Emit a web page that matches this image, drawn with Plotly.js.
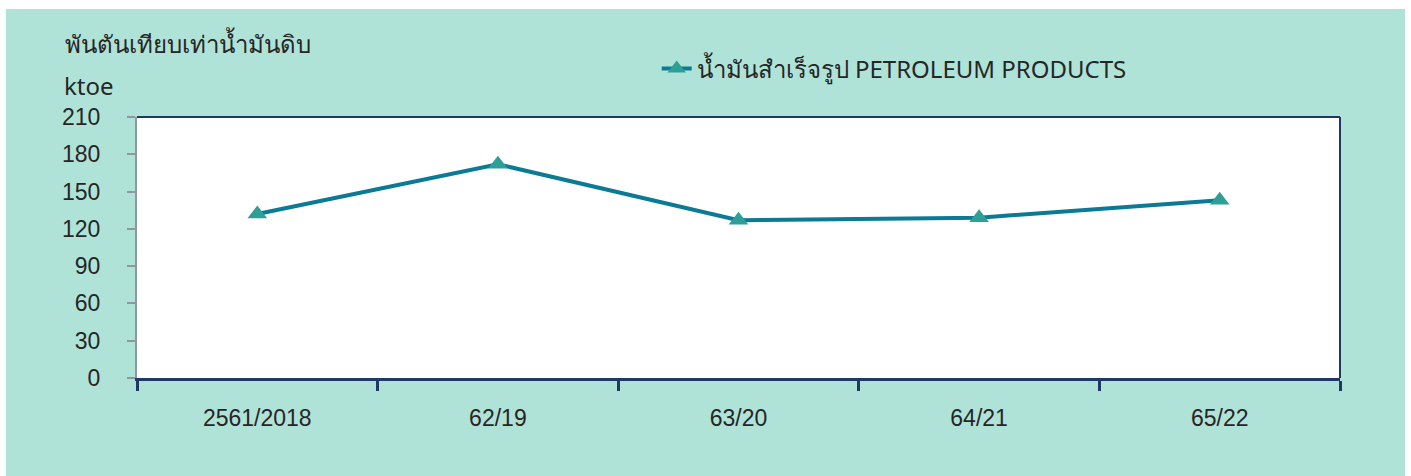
<!DOCTYPE html>
<html>
<head>
<meta charset="utf-8">
<script src="https://cdn.plot.ly/plotly-3.0.1.min.js"></script>
<style>
  html, body { margin: 0; padding: 0; background: #ffffff; width: 1411px; height: 476px; overflow: hidden; }
  #chart { position: absolute; left: 6px; top: 9px; width: 1399px; height: 467px; }
</style>
</head>
<body>
<div id="chart"></div>
<script>
const categories = ["2561/2018", "62/19", "63/20", "64/21", "65/22"];
const petroleumProducts = [132, 172, 127, 129, 143];
const seriesName = "น้ำมันสำเร็จรูป PETROLEUM PRODUCTS";
const yTicks = [0, 30, 60, 90, 120, 150, 180, 210];
const titleText = "พันตันเทียบเท่าน้ำมันดิบ";
const unitText = "ktoe";

const navy = "#1f3864";
const grey = "#8e98a3";
const textColor = "#262626";
const mint = "#b0e3d8";
const uiFont = "Tahoma, 'Noto Sans', 'DejaVu Sans', sans-serif";

const trace = {
  x: categories,
  y: petroleumProducts,
  type: "scatter",
  mode: "lines+markers",
  name: seriesName,
  line: { color: "#0a7a95", width: 4 },
  marker: { symbol: "triangle-up", size: 17, color: "#2e9f96" }
};

const layout = {
  width: 1399,
  height: 467,
  paper_bgcolor: mint,
  plot_bgcolor: "#ffffff",
  margin: { l: 131, r: 65, t: 108, b: 98 },
  font: { family: "Liberation Sans, Arial, sans-serif", size: 23, color: textColor },
  title: {
    text: titleText,
    xref: "container", yref: "container",
    x: 59 / 1399, xanchor: "left",
    y: 1 - 36 / 467, yanchor: "middle",
    font: { family: uiFont, size: 24, color: textColor }
  },
  showlegend: true,
  legend: {
    orientation: "h",
    x: 0.432, xanchor: "left",
    y: 1.184, yanchor: "middle",
    bgcolor: "rgba(0,0,0,0)",
    font: { family: uiFont, size: 24, color: textColor }
  },
  xaxis: {
    type: "category",
    range: [-0.5, 4.5],
    showgrid: false,
    zeroline: false,
    showline: true,
    linecolor: navy,
    linewidth: 3,
    ticks: "outside",
    tickson: "boundaries",
    ticklen: 10,
    tickwidth: 3,
    tickcolor: navy,
    ticklabelstandoff: 17,
    tickfont: { size: 23, color: textColor },
    fixedrange: true
  },
  yaxis: {
    range: [0, 210],
    tickvals: yTicks,
    ticktext: yTicks.map(String),
    showgrid: false,
    zeroline: false,
    showline: true,
    linecolor: grey,
    linewidth: 2,
    ticks: "outside",
    ticklen: 8,
    tickwidth: 2,
    tickcolor: grey,
    ticklabelstandoff: 22,
    tickfont: { size: 23, color: textColor },
    fixedrange: true
  },
  shapes: [
    { type: "line", xref: "paper", yref: "paper", x0: 0, x1: 1, y0: 1, y1: 1, line: { color: navy, width: 2 } },
    { type: "line", xref: "paper", yref: "paper", x0: 1, x1: 1, y0: 0, y1: 1, line: { color: navy, width: 2 } }
  ],
  annotations: [
    {
      text: unitText,
      xref: "paper", yref: "paper",
      x: (62 - 137) / 1203, xanchor: "left",
      y: (378 - 85) / 261, yanchor: "middle",
      showarrow: false,
      font: { family: uiFont, size: 24, color: textColor }
    }
  ]
};

Plotly.newPlot("chart", [trace], layout, { displayModeBar: false, staticPlot: true });
</script>
</body>
</html>
